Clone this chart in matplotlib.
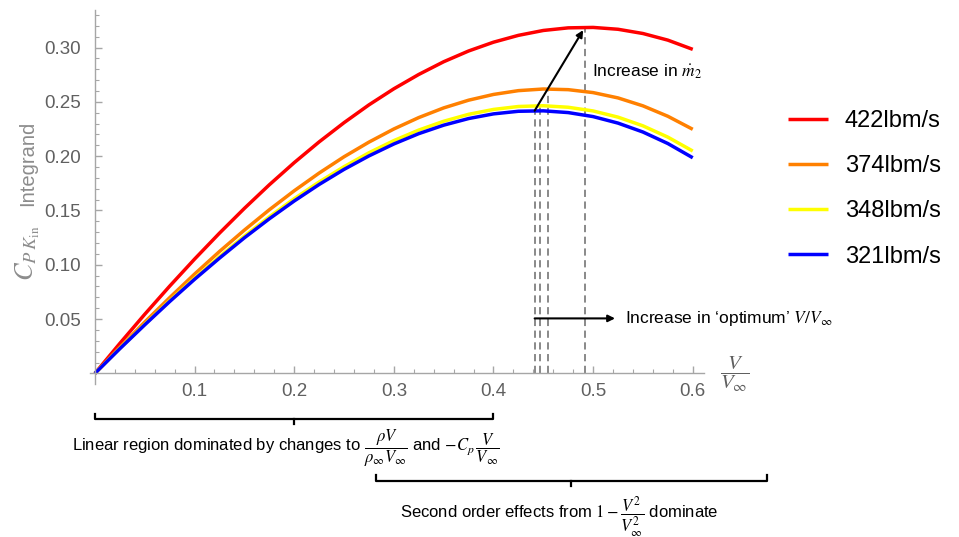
import numpy as np
import matplotlib
matplotlib.use('Agg')

import matplotlib.pyplot as plt

plt.rcParams['font.family'] = ['Liberation Sans', 'DejaVu Sans']
plt.rcParams['mathtext.fontset'] = 'stix'

# V/V_inf samples
v_ratio = [0.0, 0.025, 0.05, 0.075, 0.1, 0.125, 0.15, 0.175, 0.2, 0.225, 0.25, 0.275, 0.3,
           0.325, 0.35, 0.375, 0.4, 0.425, 0.45, 0.475, 0.5, 0.525, 0.55, 0.575, 0.6]

cpk_422 = [0.0, 0.0276, 0.0544, 0.0803, 0.1052, 0.1291, 0.1519, 0.1736, 0.1940, 0.2131, 0.2308,
           0.2472, 0.2620, 0.2752, 0.2869, 0.2968, 0.3049, 0.3112, 0.3157, 0.3181, 0.3185,
           0.3168, 0.3129, 0.3068, 0.2983]
cpk_374 = [0.0, 0.0239, 0.0472, 0.0697, 0.0914, 0.1122, 0.1319, 0.1506, 0.1681, 0.1844, 0.1994,
           0.2129, 0.2250, 0.2355, 0.2444, 0.2515, 0.2568, 0.2603, 0.2618, 0.2612, 0.2585,
           0.2536, 0.2463, 0.2367, 0.2247]
cpk_348 = [0.0, 0.0230, 0.0452, 0.0668, 0.0876, 0.1074, 0.1263, 0.1441, 0.1608, 0.1762, 0.1903,
           0.2031, 0.2143, 0.2240, 0.2321, 0.2385, 0.2430, 0.2457, 0.2464, 0.2450, 0.2416,
           0.2359, 0.2279, 0.2175, 0.2047]
cpk_321 = [0.0, 0.0227, 0.0447, 0.0661, 0.0866, 0.1061, 0.1248, 0.1423, 0.1587, 0.1739, 0.1878,
           0.2002, 0.2112, 0.2207, 0.2285, 0.2346, 0.2389, 0.2413, 0.2417, 0.2401, 0.2364,
           0.2304, 0.2222, 0.2116, 0.1985]

labels = ["422lbm/s", "374lbm/s", "348lbm/s", "321lbm/s"]
colors = ["#ff0000", "#ff8000", "#ffff00", "#0000ff"]

# optimum points (peak of each curve)
peak_x = [0.4915, 0.4547, 0.4463, 0.4413]
peak_y = [0.3186, 0.2618, 0.2464, 0.2418]

fig = plt.figure(figsize=(9.59, 5.37), dpi=100)
ax = fig.add_axes([0.0938, 0.2845, 0.640, 0.6978])

lines = []
for ys, c, lab in zip([cpk_422, cpk_374, cpk_348, cpk_321], colors, labels):
    ln, = ax.plot(v_ratio, ys, color=c, lw=2.5, label=lab, solid_capstyle='butt')
    lines.append(ln)

# dashed drop lines from each optimum
for px, py in zip(peak_x, peak_y):
    ax.plot([px, px], [0, py], color='#808080', lw=1.3, ls=(0, (4, 2.5)), zorder=1)

ax.set_xlim(-0.005, 0.611)
ax.set_ylim(-0.01, 0.335)

ax.spines['left'].set_position(('data', 0))
ax.spines['bottom'].set_position(('data', 0))
ax.spines['top'].set_visible(False)
ax.spines['right'].set_visible(False)
for s in ['left', 'bottom']:
    ax.spines[s].set_color('#a6a6a6')
    ax.spines[s].set_linewidth(1.0)

ax.set_xticks([0.1, 0.2, 0.3, 0.4, 0.5, 0.6])
ax.set_xticklabels(["0.1", "0.2", "0.3", "0.4", "0.5", "0.6"])
ax.set_yticks([0.05, 0.10, 0.15, 0.20, 0.25, 0.30])
ax.set_yticklabels(["0.05", "0.10", "0.15", "0.20", "0.25", "0.30"])
ax.set_xticks(np.arange(0.02, 0.61, 0.02), minor=True)
ax.set_yticks(np.arange(0.01, 0.331, 0.01), minor=True)
ax.tick_params(which='major', direction='in', length=5, width=1, color='#a6a6a6',
               labelsize=13.5, labelcolor='#606060')
ax.tick_params(which='minor', direction='in', length=3, width=0.8, color='#a6a6a6')
ax.tick_params(axis='y', pad=10)
ax.tick_params(axis='x', pad=7)

# y label: math part drawn larger, like the reference
fig.text(0.029, 0.6965, "Integrand", rotation=90, ha='center', va='center',
         fontsize=14.5, color='#8c8c8c')
fig.text(0.029, 0.528, r"$C_{P\,K_{\mathrm{in}}}$", rotation=90, ha='center', va='center',
         fontsize=19, color='#8c8c8c')
ax.text(0.642, -0.001, r"$\dfrac{V}{V_\infty}$", fontsize=15, color='#606060',
        ha='center', va='center', clip_on=False)

# arrows
ax.annotate("", xy=(0.490, 0.316), xytext=(0.4413, 0.2418),
            arrowprops=dict(arrowstyle='-|>', color='black', lw=1.5, mutation_scale=10,
                            shrinkA=0, shrinkB=0))
ax.text(0.4985, 0.2774, r"Increase in $\dot{m}_2$", fontsize=12.5, va='center')

ax.annotate("", xy=(0.522, 0.0506), xytext=(0.4413, 0.0506),
            arrowprops=dict(arrowstyle='-|>', color='black', lw=1.5, mutation_scale=10,
                            shrinkA=0, shrinkB=0))
ax.text(0.5316, 0.0506, r"Increase in ‘optimum’ $V/V_\infty$", fontsize=12.5, va='center')

# brackets under the axis
ax.plot([0.0, 0.0, 0.4, 0.4], [-0.0375, -0.0424, -0.0424, -0.0375], color='black', lw=1.6,
        clip_on=False)
ax.plot([0.2, 0.2], [-0.0424, -0.0470], color='black', lw=1.6, clip_on=False)
ax.plot([0.282, 0.282, 0.675, 0.675], [-0.0936, -0.0992, -0.0992, -0.0936], color='black',
        lw=1.6, clip_on=False)
ax.plot([0.4774, 0.4774], [-0.0992, -0.1040], color='black', lw=1.6, clip_on=False)

ax.text(-0.0231, -0.0695,
        r"Linear region dominated by changes to $\dfrac{\rho V}{\rho_\infty V_\infty}$ and "
        r"$-C_p\,\dfrac{V}{V_\infty}$",
        fontsize=12, va='center', clip_on=False)
ax.text(0.306, -0.1315, r"Second order effects from $1-\dfrac{V^2}{V_\infty^2}$ dominate",
        fontsize=12, va='center', clip_on=False)

fig.legend(handles=lines, labels=labels, loc='upper left', bbox_to_anchor=(0.8217, 0.795),
           frameon=False, fontsize=17, handlelength=1.7, handletextpad=0.7,
           labelspacing=0.98, borderpad=0, borderaxespad=0)

plt.savefig("out.png", dpi=100)
